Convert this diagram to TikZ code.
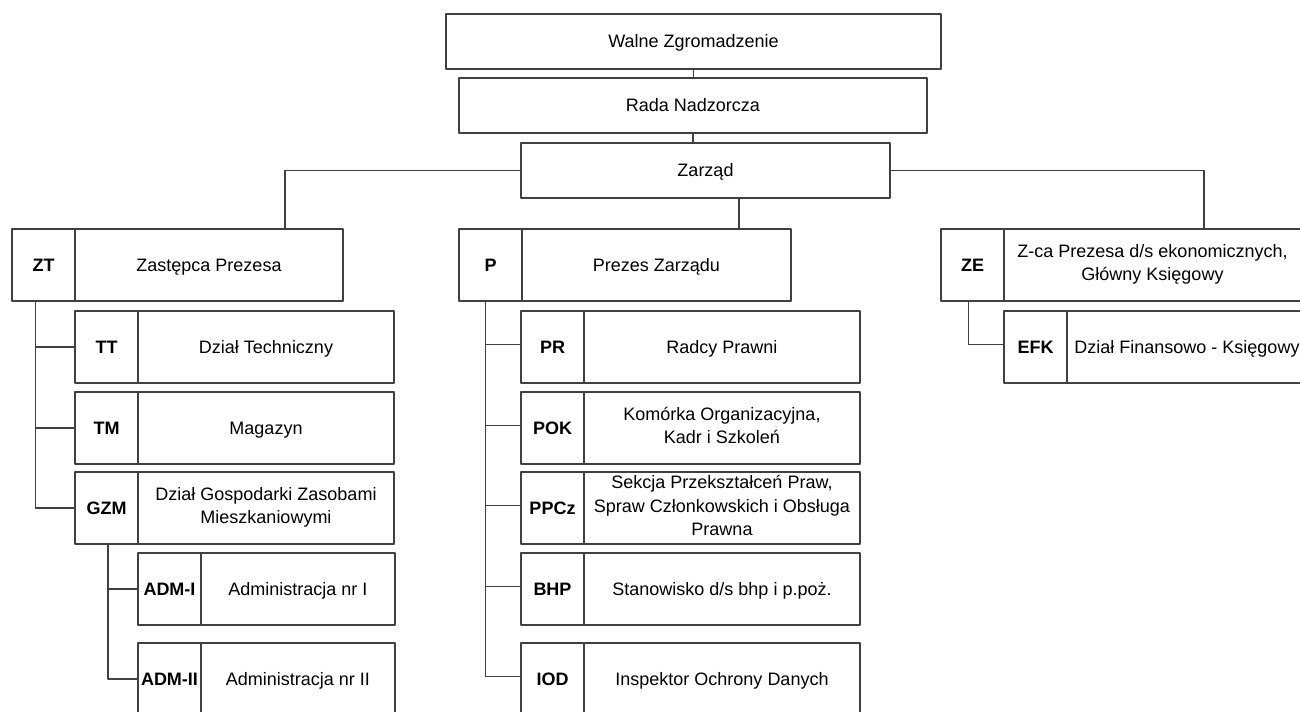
\documentclass[tikz,border=0pt]{standalone}
\usepackage{fontspec}
\setmainfont{Liberation Sans}
\usetikzlibrary{positioning}
\newcommand{\podpora}{\rule[-3.9pt]{0pt}{17.4pt}}
\tikzset{
	ramka/.style={draw=black!75, line width=1pt, outer sep=0pt, inner sep=1pt, align=center, font=\fontsize{13.5}{17.5}\selectfont, execute at begin node=\podpora},
	gora/.style={ramka, anchor=north west, minimum height=41.25pt},
	kod/.style={ramka, anchor=north west, minimum height=54pt, minimum width=47.25pt, font=\fontsize{13.5}{17.5}\selectfont\bfseries},
	nazwa/.style={ramka, minimum height=54pt},
	linia/.style={draw=black!75, line width=1pt}
}
\begin{document}
\begin{tikzpicture}[x=0.75pt, y=-0.75pt, line join=round]
			\clip (0,0) rectangle (1300,711);
			% Organy spółdzielni
			\node[gora, minimum width=371.25pt] (walne) at (446,14) {Walne Zgromadzenie};
			\node[gora, minimum width=351pt] (rada) at (459,78) {Rada Nadzorcza};
			\node[gora, minimum width=276.75pt] (zarzad) at (521,143) {Zarząd};
			% Pion zastępcy prezesa
			\node[kod] (zt) at (12,229) {ZT};
			\node[nazwa, minimum width=201pt, right=0pt of zt] (ztn) {Zastępca Prezesa};
			\node[kod] (tt) at (75,311) {TT};
			\node[nazwa, minimum width=192pt, right=0pt of tt] (ttn) {Dział Techniczny};
			\node[kod] (tm) at (75,392) {TM};
			\node[nazwa, minimum width=192pt, right=0pt of tm] (tmn) {Magazyn};
			\node[kod] (gzm) at (75,472) {GZM};
			\node[nazwa, minimum width=192pt, right=0pt of gzm] (gzmn) {Dział Gospodarki Zasobami\\Mieszkaniowymi};
			\node[kod] (adm1) at (138,553) {ADM-I};
			\node[nazwa, minimum width=145.5pt, right=0pt of adm1] (adm1n) {Administracja nr I};
			\node[kod] (adm2) at (138,643) {ADM-II};
			\node[nazwa, minimum width=145.5pt, right=0pt of adm2] (adm2n) {Administracja nr II};
			% Pion prezesa
			\node[kod] (p) at (459,229) {P};
			\node[nazwa, minimum width=201.75pt, right=0pt of p] (pn) {Prezes Zarządu};
			\node[kod] (pr) at (521,311) {PR};
			\node[nazwa, minimum width=207pt, right=0pt of pr] (prn) {Radcy Prawni};
			\node[kod] (pok) at (521,392) {POK};
			\node[nazwa, minimum width=207pt, right=0pt of pok] (pokn) {Komórka Organizacyjna,\\Kadr i Szkoleń};
			\node[kod] (ppcz) at (521,472) {PPCz};
			\node[nazwa, minimum width=207pt, right=0pt of ppcz] (ppczn) {Sekcja Przekształceń Praw,\\Spraw Członkowskich i Obsługa\\Prawna};
			\node[kod] (bhp) at (521,553) {BHP};
			\node[nazwa, minimum width=207pt, right=0pt of bhp] (bhpn) {Stanowisko d/s bhp i p.poż.};
			\node[kod] (iod) at (521,643) {IOD};
			\node[nazwa, minimum width=207pt, right=0pt of iod] (iodn) {Inspektor Ochrony Danych};
			% Pion ekonomiczny
			\node[kod] (ze) at (941,229) {ZE};
			\node[nazwa, minimum width=222.75pt, right=0pt of ze] (zen) {Z-ca Prezesa d/s ekonomicznych,\\Główny Księgowy};
			\node[kod] (efk) at (1004,311) {EFK};
			\node[nazwa, minimum width=180pt, right=0pt of efk] (efkn) {Dział Finansowo - Księgowy};
			% Połączenia
			\coordinate (zl) at (285,229);
			\coordinate (zp) at (739,229);
			\coordinate (zr) at (1204,229);
			\draw[linia] (walne.south) -- (walne.south |- rada.north);
			\draw[linia] (rada.south) -- (rada.south |- zarzad.north);
			\draw[linia] (zarzad.west) -| (zl);
			\draw[linia] (zarzad.south -| zp) -- (zp);
			\draw[linia] (zarzad.east) -| (zr);
			\foreach \n in {tt,tm,gzm}
				\draw[linia] ([xshift=-6pt]zt.south) |- (\n.west);
			\foreach \n in {adm1,adm2}
				\draw[linia] ([xshift=1pt]gzm.south) |- (\n.west);
			\foreach \n in {pr,pok,ppcz,bhp,iod}
				\draw[linia] ([xshift=-4pt]p.south) |- ([yshift=2pt]\n.west);
			\draw[linia] ([xshift=-3pt]ze.south) |- ([yshift=2pt]efk.west);
		\end{tikzpicture}
\end{document}
